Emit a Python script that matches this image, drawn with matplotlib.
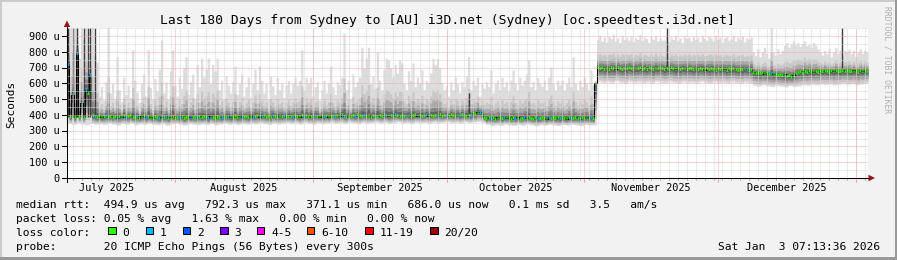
import datetime as dt
import numpy as np
import matplotlib
matplotlib.use("Agg")
import matplotlib.pyplot as plt
import matplotlib.dates as mdates
import matplotlib.transforms as mtransforms
from matplotlib.collections import LineCollection
from matplotlib.patches import Rectangle, Polygon

# ---------------------------------------------------------------------------
# data: round trip times in microseconds, one value per 12 h step (360 steps)
# ---------------------------------------------------------------------------
median_us = [
    722, 392, 527, 388, 796, 395, 475, 390, 565, 541, 660, 398, 392, 386, 397, 384, 391, 399, 386, 393,
    388, 396, 383, 394, 390, 401, 385, 392, 397, 384, 389, 395, 382, 391, 398, 386, 393, 388, 380, 392,
    386, 378, 390, 384, 393, 381, 388, 396, 383, 390, 385, 394, 379, 387, 392, 384, 390, 381, 388, 395,
    384, 391, 386, 380, 393, 388, 383, 396, 389, 385, 392, 387, 395, 384, 390, 398, 386, 392, 388, 396,
    391, 385, 397, 389, 394, 400, 387, 393, 398, 390, 395, 388, 401, 393, 389, 397, 392, 399, 387, 394,
    396, 390, 402, 393, 388, 399, 394, 401, 389, 396, 392, 403, 395, 390, 398, 393, 400, 388, 395, 402,
    394, 399, 391, 404, 396, 390, 401, 395, 398, 392, 405, 397, 393, 400, 395, 402, 390, 397, 403, 396,
    399, 392, 404, 397, 393, 401, 396, 406, 398, 392, 400, 395, 403, 397, 391, 399, 404, 396, 401, 394,
    398, 405, 396, 401, 393, 400, 397, 404, 395, 399, 402, 396, 405, 399, 394, 402, 397, 406, 400, 395,
    403, 398, 410, 404, 418, 421, 408, 385, 378, 386, 380, 388, 376, 384, 390, 379, 386, 381, 389, 377,
    385, 380, 388, 376, 383, 390, 379, 386, 382, 375, 387, 381, 378, 389, 383, 376, 385, 380, 388, 379,
    384, 378, 387, 381, 376, 386, 382, 379, 388, 383, 377, 385, 380, 387, 381, 384, 378, 600, 703, 696,
    705, 694, 700, 690, 703, 697, 692, 704, 698, 693, 701, 695, 706, 698, 691, 700, 696, 703, 694, 699,
    692, 702, 697, 690, 700, 695, 704, 697, 691, 699, 694, 702, 696, 690, 698, 693, 701, 696, 692, 699,
    695, 689, 698, 693, 700, 694, 688, 697, 692, 699, 694, 688, 696, 691, 698, 693, 687, 695, 690, 696,
    691, 686, 694, 689, 695, 690, 686, 693, 675, 668, 672, 664, 670, 662, 667, 660, 665, 657, 663, 655,
    660, 652, 657, 648, 652, 643, 655, 664, 670, 676, 668, 680, 674, 683, 677, 672, 681, 675, 684, 678,
    686, 679, 675, 684, 678, 687, 681, 676, 685, 679, 688, 682, 677, 686, 680, 675, 684, 679, 687, 681,
]

# slowest ping of each step (top of the smoke)
ping_max_us = [
    955, 955, 800, 955, 955, 760, 955, 880, 955, 720, 955, 955, 780, 737, 520, 580, 495, 610, 955, 540,
    600, 505, 770, 560, 485, 640, 530, 590, 510, 813, 620, 545, 480, 600, 660, 520, 813, 575, 500, 630,
    555, 690, 876, 540, 610, 500, 680, 813, 590, 520, 640, 570, 700, 770, 530, 610, 660, 505, 720, 580,
    760, 640, 690, 760, 600, 720, 680, 760, 560, 620, 500, 650, 590, 540, 610, 711, 530, 600, 660, 520,
    580, 640, 515, 600, 690, 560, 711, 620, 540, 600, 500, 650, 585, 530, 640, 560, 600, 510, 590, 620,
    540, 600, 640, 590, 620, 813, 560, 640, 600, 640, 520, 580, 610, 495, 560, 620, 540, 600, 711, 580,
    530, 610, 590, 640, 920, 560, 620, 500, 660, 580, 610, 640, 830, 700, 760, 830, 600, 650, 570, 800,
    620, 560, 690, 760, 750, 700, 640, 720, 666, 750, 730, 600, 560, 680, 620, 730, 580, 640, 600, 686,
    560, 620, 600, 666, 760, 720, 760, 700, 603, 560, 590, 520, 610, 560, 640, 600, 540, 610, 580, 650,
    770, 560, 620, 590, 640, 520, 600, 570, 610, 580, 686, 540, 600, 620, 560, 640, 580, 610, 550, 620,
    686, 600, 560, 640, 590, 620, 660, 750, 580, 610, 560, 640, 600, 580, 620, 560, 640, 705, 600, 560,
    620, 590, 622, 560, 600, 640, 580, 770, 600, 560, 620, 580, 641, 600, 560, 686, 590, 620, 880, 905,
    870, 895, 860, 900, 885, 910, 870, 890, 860, 905, 880, 895, 875, 900, 865, 890, 880, 910, 870, 895,
    885, 860, 900, 880, 905, 870, 890, 875, 875, 900, 865, 895, 880, 905, 870, 890, 860, 900, 885, 895,
    870, 900, 880, 895, 865, 905, 885, 875, 900, 890, 870, 905, 880, 895, 860, 890, 900, 875, 885, 905,
    870, 895, 880, 900, 865, 890, 880, 895, 800, 780, 820, 770, 800, 830, 790, 760, 955, 800, 780, 820,
    790, 810, 840, 860, 830, 850, 870, 845, 860, 835, 855, 870, 840, 850, 830, 860, 845, 820, 800, 780,
    810, 790, 820, 770, 800, 830, 790, 810, 780, 810, 800, 820, 790, 810, 770, 800, 820, 790, 810, 800,
]

# fastest ping, one value per day
ping_min_daily_us = [
    345, 340, 348, 342, 338, 346, 341, 344, 339, 347,
    342, 336, 345, 340, 348, 337, 343, 339, 346, 341,
    338, 344, 335, 342, 347, 340, 336, 345, 341, 338,
    343, 339, 346, 337, 342, 348, 340, 344, 338, 345,
    341, 347, 343, 350, 344, 339, 348, 342, 346, 351,
    345, 349, 342, 352, 346, 340, 350, 344, 348, 353,
    347, 351, 345, 354, 349, 343, 352, 347, 350, 355,
    349, 353, 346, 352, 356, 348, 351, 345, 354, 350,
    352, 347, 355, 349, 353, 357, 350, 354, 348, 356,
    351, 355, 358, 353, 340, 332, 338, 334, 341, 336,
    333, 339, 335, 342, 337, 331, 338, 334, 340, 336,
    332, 339, 335, 341, 337, 333, 340, 336, 338, 612,
    605, 610, 602, 614, 607, 600, 611, 604, 609, 603,
    608, 601, 612, 606, 603, 610, 605, 600, 609, 604,
    607, 602, 611, 605, 600, 608, 603, 606, 601, 609,
    604, 599, 607, 602, 588, 582, 590, 585, 580, 588,
    583, 578, 586, 580, 584, 592, 588, 595, 590, 597,
    593, 598, 591, 596, 600, 594, 599, 592, 597, 601,
]

# steps where one of the 20 pings was lost (all others: no loss)
one_loss_steps = [0, 2, 4, 6, 8, 10, 12, 17, 22, 26, 31, 35, 41, 44, 50, 55, 58, 63, 69, 72,
                  78, 83, 87, 92, 97, 101, 106, 111, 115, 120, 124, 129, 133, 138, 143, 147,
                  152, 157, 161, 166, 170, 176, 181, 185, 190, 196, 201, 205, 211, 216, 221,
                  226, 230, 235, 305, 316]

# dark outliers (dense in the first week): step, bottom, top
dark_spike_steps = [0, 2, 4, 7, 9, 10, 12, 180, 269, 348]
dark_spike_bottoms = [385, 385, 385, 385, 385, 385, 385, 403, 698, 683]
dark_spike_tops = [955, 955, 955, 955, 955, 955, 955, 541, 955, 955]

month_names = ["July 2025", "August 2025", "September 2025", "October 2025",
               "November 2025", "December 2025"]
month_starts = [dt.datetime(2025, m, 1) for m in range(7, 13)] + [dt.datetime(2026, 1, 1)]

y_ticks = [0, 100, 200, 300, 400, 500, 600, 700, 800, 900]
y_labels = ["0", "100 u", "200 u", "300 u", "400 u", "500 u", "600 u", "700 u", "800 u", "900 u"]

loss_labels = ["0", "1", "2", "3", "4-5", "6-10", "11-19", "20/20"]
loss_colors = ["#26ff00", "#00b8ff", "#0059ff", "#7e00ff", "#ff00ff", "#ff5500", "#ff0000", "#a10000"]

title = "Last 180 Days from Sydney to [AU] i3D.net (Sydney) [oc.speedtest.i3d.net]"
legend_rows = [
    "median rtt:  494.9 us avg   792.3 us max   371.1 us min   686.0 us now   0.1 ms sd   3.5   am/s",
    "packet loss: 0.05 % avg   1.63 % max   0.00 % min   0.00 % now",
]
probe_text = "probe:       20 ICMP Echo Pings (56 Bytes) every 300s"
stamp = "Sat Jan  3 07:13:36 2026"

# ---------------------------------------------------------------------------
W, H = 897, 260
MONO = "DejaVu Sans Mono"
BG = "#f2f2f2"


def fx(x):
    return x / W


def fy(y):
    return 1 - y / H


fig = plt.figure(figsize=(W / 100, H / 100), dpi=100, facecolor=BG)
ax = fig.add_axes([fx(67), fy(178), (868 - 67) / W, 150 / H])
ax.set_facecolor("white")
for s in ax.spines.values():
    s.set_visible(False)
ax.set_xticks([])
ax.set_yticks([])

N = len(median_us)
start = mdates.date2num(dt.datetime(2025, 7, 7, 17, 15))
tt = start + np.arange(N + 1) * 0.5
ax.set_xlim(start, start + 180)
ax.set_ylim(0, 952)

med = np.array(median_us, dtype=float)
mx = np.array(ping_max_us, dtype=float)
mn = np.repeat(np.array(ping_min_daily_us, dtype=float), 2)


def stepped(a):
    return np.append(a, a[-1])


# smoke: outer layers light, inner layers dark (upper tail is long)
layers = [(1.0, 1.0, "#dddddd"), (0.45, 0.85, "#c8c8c8"), (0.28, 0.65, "#aaaaaa"),
          (0.16, 0.45, "#888888"), (0.08, 0.25, "#646464")]
for fu, fl, col in layers:
    hi = med + fu * (mx - med)
    lo = med - fl * (med - mn)
    ax.fill_between(tt, stepped(lo), stepped(hi), step="post", color=col, lw=0, zorder=1)

for i, b, top in zip(dark_spike_steps, dark_spike_bottoms, dark_spike_tops):
    ax.vlines(tt[i] + 0.25, b, top, color="#3c3c3c", lw=1.0, zorder=3)

# median line, coloured by loss
ax.plot(tt, stepped(med), drawstyle="steps-post", color="black", lw=0.75, zorder=4)
seg_colors = [loss_colors[1] if i in one_loss_steps else loss_colors[0] for i in range(N)]
segs = [[(tt[i] + 0.04, med[i]), (tt[i] + 0.46, med[i])] for i in range(N)]
ax.add_collection(LineCollection(segs, colors=seg_colors, linewidths=1.9,
                                 capstyle="butt", zorder=5))

# grid
dots = (0, (1, 1))
minor_col = "#d6d6d6"
major_col = "#f2a8a8"
d = mdates.date2num(dt.datetime(2025, 7, 9))
while d < start + 180:
    ax.axvline(d, color=minor_col, lw=0.72, ls=dots, zorder=6)
    ax.plot([d, d], [0, -2 * 952 / 150], color="#b8b8b8", lw=0.72, clip_on=False, zorder=6)
    d += 2
for m in month_starts[1:]:
    ax.axvline(mdates.date2num(m), color=major_col, lw=0.72, ls=dots, zorder=7)
    ax.plot([mdates.date2num(m)] * 2, [0, -4 * 952 / 150], color=major_col, lw=0.72,
            clip_on=False, zorder=7)
for v in range(50, 952, 100):
    ax.axhline(v, color=minor_col, lw=0.72, ls=dots, zorder=6)
for v in y_ticks[1:]:
    ax.axhline(v, color=major_col, lw=0.72, ls=dots, zorder=7)

# axes lines and arrows
ax.plot([0, 0], [-4 / 150, 1 + 1 / 150], transform=ax.transAxes, color="black",
        lw=0.75, clip_on=False, zorder=8)
ax.plot([-5 / 801, 1 + 1 / 801], [0, 0], transform=ax.transAxes, color="black",
        lw=0.75, clip_on=False, zorder=8)
fig.add_artist(Polygon([(fx(63.8), fy(27)), (fx(70.2), fy(27)), (fx(67), fy(20.5))],
                       closed=True, transform=fig.transFigure, color="#9a1010", lw=0))
fig.add_artist(Polygon([(fx(868.5), fy(174.8)), (fx(868.5), fy(181.2)), (fx(875), fy(178))],
                       closed=True, transform=fig.transFigure, color="#9a1010", lw=0))

# y ticks and labels
ytrans = mtransforms.blended_transform_factory(ax.transAxes, ax.transData)
for v, lab in zip(y_ticks, y_labels):
    ax.plot([-5 / 801, 0], [v, v], transform=ytrans, color="black", lw=0.75,
            clip_on=False, zorder=8)
    ax.annotate(lab, xy=(0, v), xycoords=ytrans, xytext=(-7, -3.7),
                textcoords="offset pixels", ha="right", va="baseline",
                fontsize=7.4, family=MONO)

# month labels in the middle of each month
for name, m0, m1 in zip(month_names, month_starts[:-1], month_starts[1:]):
    mid = (mdates.date2num(m0) + mdates.date2num(m1)) / 2
    ax.annotate(name, xy=(mid, 0), xycoords="data", xytext=(0, -13),
                textcoords="offset pixels", ha="center", va="baseline",
                fontsize=7.4, family=MONO, annotation_clip=False)

# texts
fig.text(fx(447), fy(24), title, ha="center", va="baseline", fontsize=9.4, family=MONO)
fig.text(fx(11), fy(104), "Seconds", rotation=90, ha="center", va="center",
         fontsize=8, family=MONO)
fig.text(fx(887), fy(60), "RRDTOOL / TOBI OETIKER", rotation=-90, ha="center",
         va="center", fontsize=5.8, family=MONO, color="#b0b0b0")

fig.text(fx(16), fy(207.5), legend_rows[0], ha="left", va="baseline", fontsize=8.1, family=MONO)
fig.text(fx(16), fy(221.8), legend_rows[1], ha="left", va="baseline", fontsize=8.1, family=MONO)
fig.text(fx(16), fy(236), "loss color:", ha="left", va="baseline", fontsize=8.1, family=MONO)
box_x = [108, 145.5, 182.5, 220, 256.5, 306.5, 365, 430]
for bx, lab, col in zip(box_x, loss_labels, loss_colors):
    fig.add_artist(Rectangle((fx(bx), fy(234)), 7.5 / W, 7.5 / H, transform=fig.transFigure,
                             facecolor=col, edgecolor="black", lw=0.72))
    fig.text(fx(bx + 14.5), fy(236), lab, ha="left", va="baseline", fontsize=8.1, family=MONO)
fig.text(fx(16), fy(250.3), probe_text, ha="left", va="baseline", fontsize=8.1, family=MONO)
fig.text(fx(880), fy(250.3), stamp, ha="right", va="baseline", fontsize=8.1, family=MONO)

# rrdtool style shaded frame
fig.add_artist(Rectangle((0, 1 - 2 / H), 1, 2 / H, transform=fig.transFigure, color="#cbcbcb", lw=0))
fig.add_artist(Rectangle((0, 0), 2 / W, 1, transform=fig.transFigure, color="#cbcbcb", lw=0))
fig.add_artist(Rectangle((0, 0), 1, 3 / H, transform=fig.transFigure, color="#999999", lw=0))
fig.add_artist(Rectangle((1 - 2 / W, 0), 2 / W, 1, transform=fig.transFigure, color="#999999", lw=0))

fig.savefig("out.png", dpi=100, facecolor=BG)
